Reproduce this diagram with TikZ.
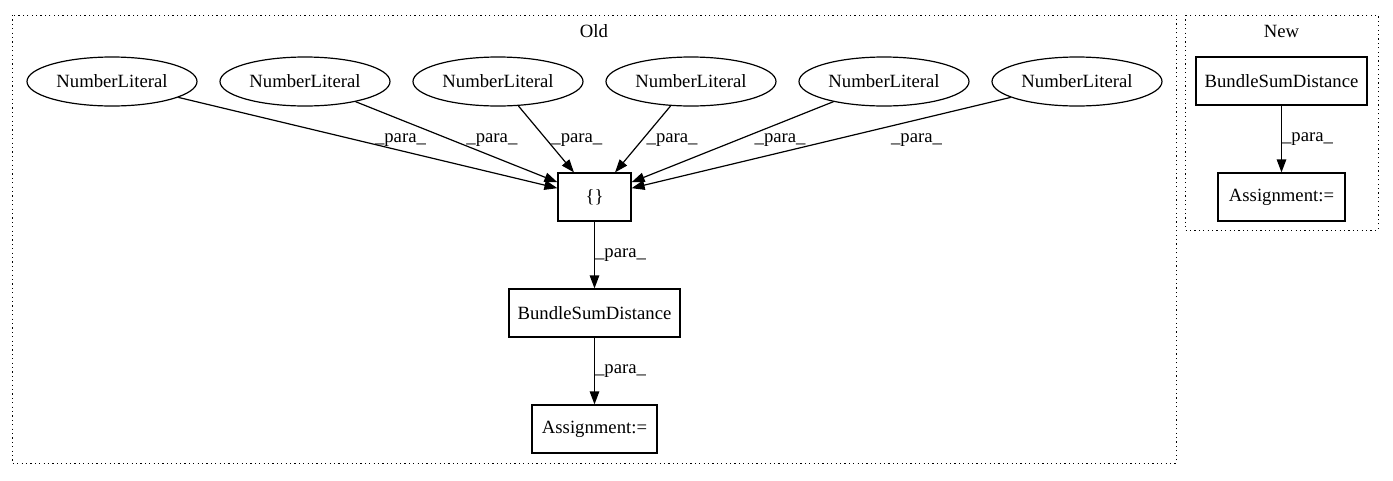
\documentclass[tikz,border=0pt]{standalone}
\usepackage{fontspec}
\setmainfont{Liberation Serif}
\usetikzlibrary{arrows.meta,shapes.geometric}

\begin{document}
\begin{tikzpicture}[->,>={Triangle[length=13pt,width=9.5pt]},x=1pt,y=-1pt,
  line width=1.2pt,node distance=193pt,font=\fontsize{18.7}{22}\selectfont,
  lit node/.style={ellipse,draw,minimum width=170pt,minimum height=49pt,inner sep=0pt},
  op node/.style={rectangle,draw,minimum height=48pt,inner sep=0pt},
  cluster/.style={draw,-,line width=1pt,dash pattern=on 1.2pt off 3.2pt}]

  \useasboundingbox (0,0) rectangle (1393,480);

  % clusters
  \draw[cluster] (12,15) rectangle (1176,463);
  \draw[cluster] (1185,15) rectangle (1378,230);
  \node (OLD) at (594,31) {Old};
  \node (NEW) at (1281.5,31) {New};

  \node[lit node] (NL1) at (112,81.5) {NumberLiteral};
  \node[lit node] (NL2) [right of=NL1] {NumberLiteral};
  \node[lit node] (NL3) [right of=NL2] {NumberLiteral};
  \node[lit node] (NL4) [right of=NL3] {NumberLiteral};
  \node[lit node] (NL5) [right of=NL4] {NumberLiteral};
  \node[lit node] (NL6) [right of=NL5] {NumberLiteral};

  \node[op node, minimum width=73pt] (BR) at (594.5,197) {\{\}};
  \node[op node, minimum width=171pt] (BSD) [below of=BR, node distance=116pt] {BundleSumDistance};
  \node[op node, minimum width=125pt] (ASG) [below of=BSD, node distance=116pt] {Assignment:=};

  \node[op node, minimum width=171pt] (NBSD) at (1281.5,81) {BundleSumDistance};
  \node[op node, minimum width=127pt] (NASG) [below of=NBSD, node distance=116pt] {Assignment:=};

  \path[every node/.style={inner sep=0pt}]
    % labels sit to the right of each arrow, level with each other
    (NL1) edge node[pos=0.47, xshift=44pt] {\_para\_} (BR)
    (NL2) edge node[pos=0.477, xshift=40pt] {\_para\_} (BR)
    (NL3) edge node[pos=0.513, xshift=30pt] {\_para\_} (BR)
    (NL4) edge node[pos=0.513, xshift=30pt] {\_para\_} (BR)
    (NL5) edge node[pos=0.477, xshift=43pt] {\_para\_} (BR)
    (NL6) edge node[pos=0.47, xshift=84pt] {\_para\_} (BR)
    (BR) edge node[midway, anchor=west] {\_para\_} (BSD)
    (BSD) edge node[midway, anchor=west] {\_para\_} (ASG)
    (NBSD) edge node[midway, anchor=west] {\_para\_} (NASG);

\end{tikzpicture}
\end{document}
